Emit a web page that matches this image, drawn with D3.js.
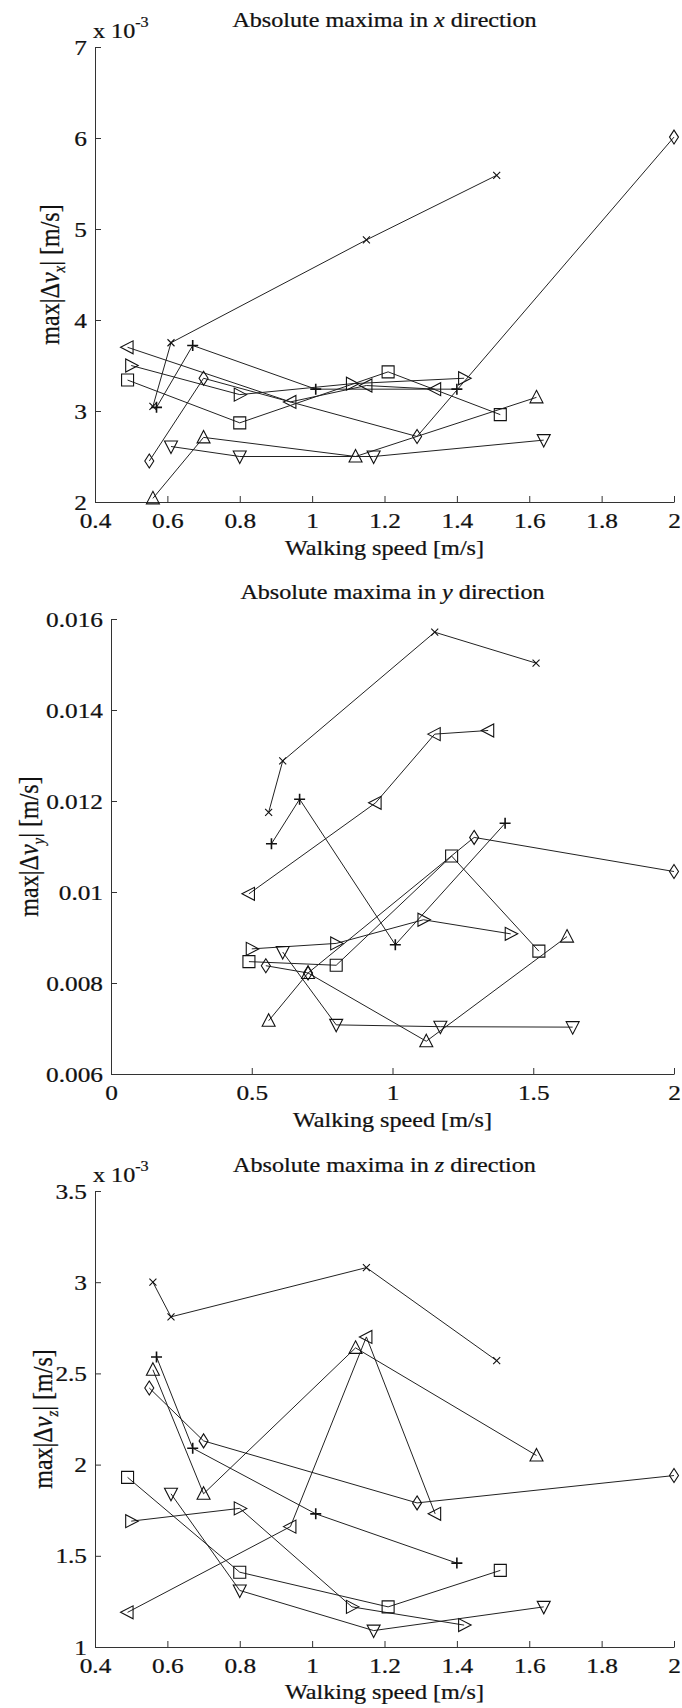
<!DOCTYPE html>
<html lang="en">
<head>
<meta charset="UTF-8">
<title>Absolute maxima vs walking speed</title>
<style>
  body { margin: 0; background: #fff; }
  svg { display: block; font-family: "Liberation Serif", "Times New Roman", serif; }
  text { fill: #111; stroke: #111; stroke-width: 0.25; }
  .wide { transform: scaleX(1.15); transform-box: fill-box; transform-origin: center; }
  .yt text { transform-origin: right center; }
  .expo { transform-origin: left center; }
</style>
<script src="https://d3js.org/d3.v7.min.js"></script>
</head>
<body>
<div class="graph"></div>
<script>
// one entry per test subject, same order in every array
const markerTypes = ['times', 'plus', 'triLeft', 'triRight', 'square', 'diamond', 'triUp', 'triDown'];

// walking speed [m/s]
const speeds = [
  [0.56, 0.61, 1.15, 1.51],
  [0.57, 0.67, 1.01, 1.40],
  [0.49, 0.94, 1.15, 1.34],
  [0.50, 0.80, 1.11, 1.42],
  [0.49, 0.80, 1.21, 1.52],
  [0.55, 0.70, 1.29, 2.00],
  [0.56, 0.70, 1.12, 1.62],
  [0.61, 0.80, 1.17, 1.64]
];

// max|dv_x| in 1e-3 m/s
const maxVx = [
  [3.05, 3.75, 4.88, 5.59],
  [3.04, 3.72, 3.24, 3.24],
  [3.70, 3.10, 3.28, 3.24],
  [3.50, 3.18, 3.30, 3.36],
  [3.34, 2.87, 3.43, 2.96],
  [2.45, 3.36, 2.72, 6.01],
  [2.04, 2.71, 2.50, 3.15],
  [2.61, 2.50, 2.50, 2.68]
];

// max|dv_y| in m/s
const maxVy = [
  [0.01175, 0.01288, 0.01571, 0.01503],
  [0.01106, 0.01204, 0.00884, 0.01151],
  [0.00996, 0.01196, 0.01347, 0.01355],
  [0.00875, 0.00887, 0.00939, 0.00908],
  [0.00847, 0.00839, 0.01079, 0.00870],
  [0.00838, 0.00822, 0.01120, 0.01045],
  [0.00717, 0.00822, 0.00672, 0.00902],
  [0.00868, 0.00708, 0.00704, 0.00703]
];

// max|dv_z| in 1e-3 m/s
const maxVz = [
  [3.00, 2.81, 3.08, 2.57],
  [2.59, 2.09, 1.73, 1.46],
  [1.19, 1.66, 2.70, 1.73],
  [1.69, 1.76, 1.22, 1.12],
  [1.93, 1.41, 1.22, 1.42],
  [2.42, 2.13, 1.79, 1.94],
  [2.52, 1.84, 2.64, 2.05],
  [1.84, 1.31, 1.09, 1.22]
];

const xTicksA = [0.4, 0.6, 0.8, 1, 1.2, 1.4, 1.6, 1.8, 2];
const xTickLabelsA = ['0.4', '0.6', '0.8', '1', '1.2', '1.4', '1.6', '1.8', '2'];
const xTicksB = [0, 0.5, 1, 1.5, 2];
const xTickLabelsB = ['0', '0.5', '1', '1.5', '2'];
const yTicksX = [2, 3, 4, 5, 6, 7];
const yTickLabelsX = ['2', '3', '4', '5', '6', '7'];
const yTicksY = [0.006, 0.008, 0.01, 0.012, 0.014, 0.016];
const yTickLabelsY = ['0.006', '0.008', '0.01', '0.012', '0.014', '0.016'];
const yTicksZ = [1, 1.5, 2, 2.5, 3, 3.5];
const yTickLabelsZ = ['1', '1.5', '2', '2.5', '3', '3.5'];

// open matlab-like markers
const symbolTypes = {
  times: { draw(c) { const r = 3.5; c.moveTo(-r, -r); c.lineTo(r, r); c.moveTo(-r, r); c.lineTo(r, -r); } },
  plus: { draw(c) { const r = 5.5; c.moveTo(-r, 0); c.lineTo(r, 0); c.moveTo(0, -r); c.lineTo(0, r); } },
  square: { draw(c) { c.rect(-6, -6, 12, 12); } },
  diamond: { draw(c) { c.moveTo(0, -7); c.lineTo(4.5, 0); c.lineTo(0, 7); c.lineTo(-4.5, 0); c.closePath(); } },
  triUp: { draw(c) { c.moveTo(0, -7); c.lineTo(6.5, 5.5); c.lineTo(-6.5, 5.5); c.closePath(); } },
  triDown: { draw(c) { c.moveTo(0, 7); c.lineTo(6.5, -5.5); c.lineTo(-6.5, -5.5); c.closePath(); } },
  triLeft: { draw(c) { c.moveTo(-7, 0); c.lineTo(5.5, -6.5); c.lineTo(5.5, 6.5); c.closePath(); } },
  triRight: { draw(c) { c.moveTo(7, 0); c.lineTo(-5.5, -6.5); c.lineTo(-5.5, 6.5); c.closePath(); } }
};

const panels = [
  { dir: 'x', values: maxVx, left: 95, right: 674, top: 47, bottom: 502,
    xDomain: [0.4, 2], xTicks: xTicksA, xLabels: xTickLabelsA,
    yDomain: [2, 7], yTicks: yTicksX, yLabels: yTickLabelsX,
    titleY: 27, xLabelY: 555, yLabelX: 59, expo: true },
  { dir: 'y', values: maxVy, left: 111, right: 674, top: 619, bottom: 1074,
    xDomain: [0, 2], xTicks: xTicksB, xLabels: xTickLabelsB,
    yDomain: [0.006, 0.016], yTicks: yTicksY, yLabels: yTickLabelsY,
    titleY: 599, xLabelY: 1127, yLabelX: 38, expo: false },
  { dir: 'z', values: maxVz, left: 95, right: 674, top: 1191, bottom: 1647,
    xDomain: [0.4, 2], xTicks: xTicksA, xLabels: xTickLabelsA,
    yDomain: [1, 3.5], yTicks: yTicksZ, yLabels: yTickLabelsZ,
    titleY: 1172, xLabelY: 1699, yLabelX: 52, expo: true }
];

const svg = d3.select('.graph').append('svg')
  .attr('width', 682)
  .attr('height', 1708);

panels.forEach(p => {
  const x = d3.scaleLinear().domain(p.xDomain).range([p.left, p.right]);
  const y = d3.scaleLinear().domain(p.yDomain).range([p.bottom, p.top]);
  const g = svg.append('g');

  g.append('g')
    .attr('class', 'xt')
    .attr('transform', `translate(0, ${p.bottom})`)
    .call(d3.axisBottom(x).tickValues(p.xTicks).tickFormat((d, i) => p.xLabels[i])
      .tickSize(-6).tickSizeOuter(0).tickPadding(10));
  g.append('g')
    .attr('class', 'yt')
    .attr('transform', `translate(${p.left}, 0)`)
    .call(d3.axisLeft(y).tickValues(p.yTicks).tickFormat((d, i) => p.yLabels[i])
      .tickSize(-6).tickSizeOuter(0).tickPadding(8));
  g.selectAll('.xt, .yt').attr('font-family', null).attr('font-size', 22);
  g.selectAll('.domain, .tick line').attr('stroke', '#333');
  g.selectAll('.tick text').attr('fill', '#111').attr('class', 'wide');

  // series
  p.values.forEach((vals, si) => {
    const pts = speeds[si].map((s, i) => [s, vals[i]]);
    g.append('path')
      .attr('d', d3.line().x(d => x(d[0])).y(d => y(d[1]))(pts))
      .attr('fill', 'none')
      .attr('stroke', '#222')
      .attr('stroke-width', 1);
    g.selectAll(null).data(pts).join('path')
      .attr('transform', d => `translate(${x(d[0])}, ${y(d[1])})`)
      .attr('d', d3.symbol().type(symbolTypes[markerTypes[si]]))
      .attr('fill', 'none')
      .attr('stroke', '#111')
      .attr('stroke-width', markerTypes[si] === 'plus' ? 1.6 : 1.1);
  });

  // title
  const t = g.append('text')
    .attr('class', 'wide')
    .attr('x', (p.left + p.right) / 2)
    .attr('y', p.titleY)
    .attr('text-anchor', 'middle')
    .attr('font-size', 21);
  t.append('tspan').text('Absolute maxima in ');
  t.append('tspan').attr('font-style', 'italic').text(p.dir);
  t.append('tspan').text(' direction');

  // x label
  g.append('text')
    .attr('class', 'wide')
    .attr('x', (p.left + p.right) / 2)
    .attr('y', p.xLabelY)
    .attr('text-anchor', 'middle')
    .attr('font-size', 21)
    .text('Walking speed [m/s]');

  // y label
  const yl = g.append('text')
    .attr('transform', `translate(${p.yLabelX}, ${(p.top + p.bottom) / 2}) scale(1.1, 1) rotate(-90)`)
    .attr('text-anchor', 'middle')
    .attr('font-size', 24);
  yl.append('tspan').text('max|\u0394');
  yl.append('tspan').attr('font-style', 'italic').text('v');
  yl.append('tspan').attr('font-style', 'italic').attr('font-size', 15).attr('dy', 5).text(p.dir);
  yl.append('tspan').attr('dy', -5).text('| [m/s]');

  // exponent
  if (p.expo) {
    const e = g.append('text')
      .attr('class', 'wide expo')
      .attr('x', p.left - 2)
      .attr('y', p.top - 9)
      .attr('font-size', 21);
    e.append('tspan').text('x 10');
    e.append('tspan').attr('font-size', 14).attr('dy', -11).text('-3');
  }
});
</script>
</body>
</html>
